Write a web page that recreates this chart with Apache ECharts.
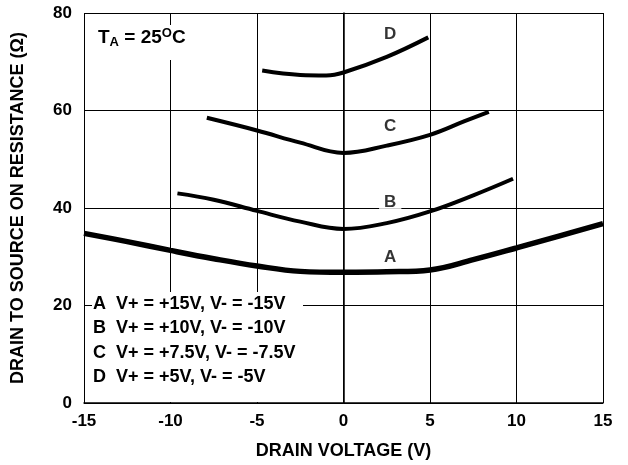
<!DOCTYPE html>
<html><head><meta charset="utf-8">
<script src="https://cdn.jsdelivr.net/npm/echarts@6/dist/echarts.min.js"></script>
<style>html,body{margin:0;padding:0;background:#fff}#c{width:628px;height:465px}</style>
</head><body><div id="c"></div><script>
const FONT = "'Liberation Sans', Arial, sans-serif";
const curveA = [[-15,34.8],[-12.5,33.1],[-10,31.3],[-7.5,29.6],[-5,28.1],[-2.5,27.0],[0,26.8],[2.5,26.9],[5,27.3],[7.5,29.4],[10,31.8],[12.5,34.3],[15,36.8]];
const curveB = [[-9.6,43.0],[-7.5,41.7],[-5,39.4],[-2.5,37.2],[0,35.7],[2.5,36.9],[5,39.3],[7.5,42.6],[9.8,46.0]];
const curveC = [[-7.9,58.5],[-5,55.9],[-2.5,53.4],[0,51.3],[2.5,52.8],[5,55.0],[7,57.8],[8.4,59.7]];
const curveD = [[-4.7,68.2],[-2.5,67.3],[-1,67.2],[0,67.8],[2.5,71.0],[4.9,75.0]];
const curveLabels = [['A',2.7,29.9],['B',2.7,41.2],['C',2.7,56.8],['D',2.7,75.6]];
const legendLines = ['A  V+ = +15V, V- = -15V','B  V+ = +10V, V- = -10V','C  V+ = +7.5V, V- = -7.5V','D  V+ = +5V, V- = -5V'];
const xTitle = 'DRAIN VOLTAGE (V)';
const yTitle = 'DRAIN TO SOURCE ON RESISTANCE (\u03A9)';

const chart = echarts.init(document.getElementById('c'), null, {renderer:'canvas'});
const lineSeries = (d, w) => ({type:'line', data:d, smooth:0.4, showSymbol:false, symbol:'none',
  lineStyle:{color:'#000', width:w, cap:'butt'}, z:3, silent:true});
const txt = {fontFamily:FONT, fontWeight:'bold', fontSize:17, color:'#000'};
const ttl = {fontFamily:FONT, fontWeight:'bold', fontSize:18, color:'#000'};
chart.setOption({
  animation:false,
  backgroundColor:'#fff',
  grid:{left:84, right:25, top:13, bottom:62},
  xAxis:{type:'value', min:-15, max:15, interval:5,
    name:xTitle, nameLocation:'middle', nameGap:39, nameTextStyle:ttl,
    axisLine:{show:true, lineStyle:{color:'#000', width:1.5}}, axisTick:{show:false},
    axisLabel:Object.assign({margin:10}, txt),
    splitLine:{show:true, lineStyle:{color:'#000', width:1}}},
  yAxis:{type:'value', min:0, max:80, interval:20,
    name:yTitle, nameLocation:'middle', nameGap:57, nameTextStyle:ttl,
    axisLine:{show:true, lineStyle:{color:'#000', width:1.5}}, axisTick:{show:false},
    axisLabel:Object.assign({margin:12}, txt),
    splitLine:{show:true, lineStyle:{color:'#000', width:1}}},
  series:[
    lineSeries(curveA, 5.5),
    lineSeries(curveB, 4),
    lineSeries(curveC, 4),
    lineSeries(curveD, 4),
    {type:'scatter', data:curveLabels.map(l=>({value:[l[1],l[2]], name:l[0]})), symbolSize:0, z:4, silent:true,
     label:{show:true, position:'inside', formatter:p=>p.name, backgroundColor:'#fff', padding:[0,5],
       fontFamily:FONT, fontWeight:'bold', fontSize:17, color:'#000'}}
  ],
  graphic:[
    {type:'rect', left:93, top:25, shape:{width:106, height:35}, style:{fill:'#fff'}, z:50},
    {type:'text', left:98, top:26, z:51, style:{
      text:'{t|T}{sub|A}{t| = 25}{sup|O}{t|C}',
      rich:{
        t:{fontFamily:FONT, fontWeight:'bold', fontSize:19, fill:'#000', lineHeight:22},
        sub:{fontFamily:FONT, fontWeight:'bold', fontSize:13, fill:'#000', padding:[10,0,0,0], lineHeight:22},
        sup:{fontFamily:FONT, fontWeight:'bold', fontSize:13, fill:'#000', padding:[0,0,9,0], lineHeight:22}
      }}},
    {type:'rect', left:92, top:292, shape:{width:211, height:110}, style:{fill:'#fff'}, z:50}
  ].concat(legendLines.map((s,i)=>({type:'text', left:93, top:295+i*24.5, z:51,
    style:{text:s, font:'bold 18px '+FONT, fill:'#000'}})))
});
</script></body></html>
